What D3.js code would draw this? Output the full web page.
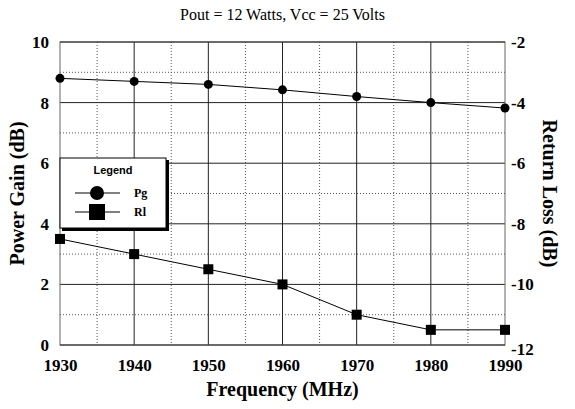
<!DOCTYPE html>
<head>
<meta charset="utf-8">
<style>
	body{ margin:0; background:white; }
	svg{ display:block; }
	text{ font-family:"Liberation Serif","Times New Roman",serif; }
</style>
</head>
<body>
<script src="https://cdn.jsdelivr.net/npm/d3@7"></script>
<svg width="575" height="409"></svg>
<script>
	var freqs = [1930,1940,1950,1960,1970,1980,1990];
	var pgValues = [8.8,8.7,8.6,8.42,8.2,8.0,7.82];
	var rlValues = [-8.5,-9,-9.5,-10,-11,-11.5,-11.5];
	var leftTicks = [0,2,4,6,8,10];
	var rightTicks = [-12,-10,-8,-6,-4,-2];

	var L = 60, R = 505, T = 42, B = 345;
	var svg = d3.select("svg");

	var x = d3.scaleLinear().domain([1930,1990]).range([L,R]);
	var yL = d3.scaleLinear().domain([0,10]).range([B,T]);
	var yR = d3.scaleLinear().domain([-12,-2]).range([B,T]);

	// minor dotted grid
	var g = svg.append("g");
	g.selectAll(".mv").data(d3.range(1935,1990,10)).enter().append("line")
		.attr("x1",d => x(d)).attr("x2",d => x(d)).attr("y1",T).attr("y2",B)
		.attr("stroke","#555").attr("stroke-dasharray","1,2");
	g.selectAll(".mh").data([1,3,5,7,9]).enter().append("line")
		.attr("x1",L).attr("x2",R).attr("y1",d => yL(d)).attr("y2",d => yL(d))
		.attr("stroke","#555").attr("stroke-dasharray","1,2");
	// major grid
	g.selectAll(".Mv").data(freqs.slice(1,-1)).enter().append("line")
		.attr("x1",d => x(d)).attr("x2",d => x(d)).attr("y1",T).attr("y2",B)
		.attr("stroke","#222");
	g.selectAll(".Mh").data(leftTicks.slice(1,-1)).enter().append("line")
		.attr("x1",L).attr("x2",R).attr("y1",d => yL(d)).attr("y2",d => yL(d))
		.attr("stroke","#222");
	svg.append("rect").attr("x",L).attr("y",T).attr("width",R-L).attr("height",B-T)
		.attr("fill","none").attr("stroke","#666");
	svg.append("line").attr("x1",L).attr("x2",R).attr("y1",T).attr("y2",T).attr("stroke","#222");
	svg.append("line").attr("x1",L).attr("x2",R).attr("y1",B).attr("y2",B).attr("stroke","#222");

	// axes
	var axL = svg.append("g").attr("transform","translate("+L+",0)")
		.call(d3.axisLeft(yL).tickValues(leftTicks).tickSize(0).tickPadding(11));
	var axR = svg.append("g").attr("transform","translate("+R+",0)")
		.call(d3.axisRight(yR).tickValues(rightTicks).tickFormat(d => String(d)).tickSize(0).tickPadding(6));
	var axB = svg.append("g").attr("transform","translate(0,"+B+")")
		.call(d3.axisBottom(x).tickValues(freqs).tickFormat(d => String(d)).tickSize(0).tickPadding(14));
	[axL,axR,axB].forEach(function(a){
		a.select(".domain").remove();
		a.selectAll("text").style("font-family","Liberation Serif, serif")
			.style("font-size","17px").style("font-weight","bold").attr("fill","#000");
	});
	axR.selectAll("text").attr("dy", d => d === -12 ? "0.55em" : "0.32em");
	axL.selectAll("text").attr("dy", d => d === 0 ? "0.3em" : "0.32em");

	// lines
	var lineL = d3.line().x((d,i) => x(freqs[i])).y(d => yL(d));
	var lineR = d3.line().x((d,i) => x(freqs[i])).y(d => yR(d));
	svg.append("path").attr("d",lineL(pgValues)).attr("fill","none").attr("stroke","#000").attr("stroke-width",1);
	svg.append("path").attr("d",lineR(rlValues)).attr("fill","none").attr("stroke","#000").attr("stroke-width",1);
	svg.selectAll(".pg").data(pgValues).enter().append("circle")
		.attr("cx",(d,i) => x(freqs[i])).attr("cy",d => yL(d)).attr("r",4.5).attr("fill","#000");
	svg.selectAll(".rl").data(rlValues).enter().append("rect")
		.attr("x",(d,i) => x(freqs[i])-5).attr("y",d => yR(d)-5)
		.attr("width",10).attr("height",10).attr("fill","#000");

	// titles
	svg.append("text").attr("x",(L+R)/2).attr("y",20).attr("text-anchor","middle")
		.style("font-size","16px").text("Pout = 12 Watts, Vcc = 25 Volts");
	svg.append("text").attr("x",(L+R)/2).attr("y",396).attr("text-anchor","middle")
		.style("font-size","20px").style("font-weight","bold").text("Frequency (MHz)");
	svg.append("text").attr("transform","translate(24,"+((T+B)/2)+") rotate(-90)")
		.attr("text-anchor","middle").style("font-size","20px").style("font-weight","bold").text("Power Gain (dB)");
	svg.append("text").attr("transform","translate(543,"+((T+B)/2)+") rotate(90)")
		.attr("text-anchor","middle").style("font-size","20px").style("font-weight","bold").text("Return Loss (dB)");

	// legend
	var lg = svg.append("g");
	lg.append("rect").attr("x",62).attr("y",160).attr("width",107).attr("height",71).attr("fill","#000");
	lg.append("rect").attr("x",60).attr("y",158).attr("width",106).attr("height",70)
		.attr("fill","#fff").attr("stroke","#000");
	lg.append("text").attr("x",113).attr("y",174).attr("text-anchor","middle")
		.style("font-family","Liberation Sans, Arial, sans-serif").style("font-size","11px").style("font-weight","bold").text("Legend");
	[["Pg",193],["Rl",212]].forEach(function(r,i){
		lg.append("line").attr("x1",75).attr("x2",120).attr("y1",r[1]).attr("y2",r[1]).attr("stroke","#000");
		if(i === 0) lg.append("circle").attr("cx",97).attr("cy",r[1]).attr("r",7).attr("fill","#000");
		else lg.append("rect").attr("x",89).attr("y",r[1]-8).attr("width",16).attr("height",16).attr("fill","#000");
		lg.append("text").attr("x",134).attr("y",r[1]+4).style("font-size","12px").style("font-weight","bold").text(r[0]);
	});
</script>
</body>
</html>
